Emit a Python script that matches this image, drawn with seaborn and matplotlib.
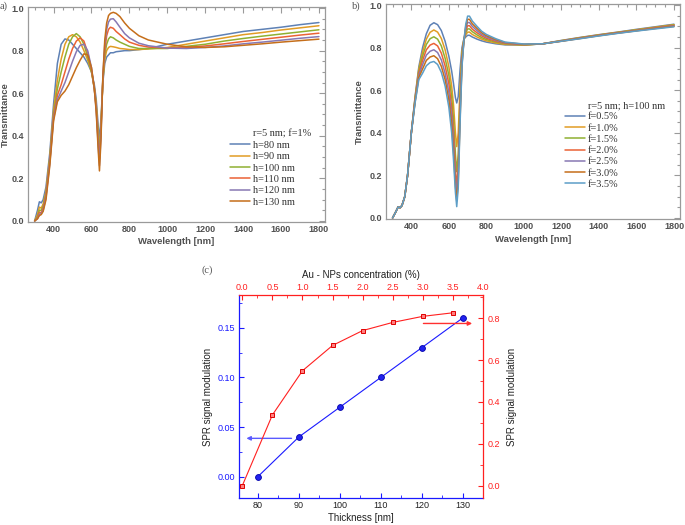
import numpy as np
import pandas as pd
import matplotlib
matplotlib.use("Agg")
import matplotlib.pyplot as plt
import seaborn as sns
from matplotlib.lines import Line2D
from matplotlib.ticker import MultipleLocator

sns.set_theme(style="white")
plt.rcParams['font.family'] = ['Liberation Sans', 'DejaVu Sans']

# ---------------- Panel (a) data ----------------
wl_a = [300, 315, 325, 335, 345, 360, 380, 400, 420, 440, 460, 480, 500, 520, 540, 560,
        580, 600, 615, 625, 635, 642, 650, 660, 670, 680, 690, 700, 715, 730, 750, 775,
        800, 850, 900, 1000, 1100, 1200, 1300, 1400, 1500, 1600, 1700, 1800]
h80 = [0.0, 0.05, 0.09, 0.085, 0.10, 0.16, 0.32, 0.55, 0.74, 0.83, 0.855, 0.85, 0.83, 0.81, 0.79, 0.77,
       0.74, 0.70, 0.64, 0.57, 0.45, 0.38, 0.48, 0.65, 0.74, 0.77, 0.78, 0.79, 0.79, 0.795, 0.797, 0.80,
       0.80, 0.805, 0.81, 0.83, 0.845, 0.86, 0.875, 0.89, 0.90, 0.91, 0.922, 0.932]
h90 = [0.0, 0.03, 0.065, 0.06, 0.08, 0.14, 0.30, 0.52, 0.66, 0.76, 0.83, 0.865, 0.875, 0.865, 0.84, 0.80,
       0.755, 0.70, 0.63, 0.55, 0.42, 0.33, 0.45, 0.66, 0.76, 0.80, 0.815, 0.82, 0.818, 0.815, 0.81, 0.808,
       0.805, 0.805, 0.808, 0.815, 0.83, 0.845, 0.86, 0.875, 0.885, 0.897, 0.907, 0.917]
h100 = [0.0, 0.02, 0.05, 0.05, 0.07, 0.13, 0.29, 0.50, 0.62, 0.70, 0.77, 0.83, 0.865, 0.88, 0.865, 0.83,
        0.77, 0.70, 0.62, 0.54, 0.40, 0.32, 0.44, 0.66, 0.78, 0.83, 0.855, 0.865, 0.86, 0.85, 0.84, 0.83,
        0.82, 0.81, 0.81, 0.81, 0.82, 0.83, 0.845, 0.857, 0.868, 0.878, 0.888, 0.898]
h110 = [0.0, 0.015, 0.04, 0.04, 0.06, 0.12, 0.28, 0.49, 0.59, 0.64, 0.70, 0.76, 0.81, 0.845, 0.86, 0.845,
        0.79, 0.71, 0.62, 0.53, 0.38, 0.29, 0.42, 0.67, 0.80, 0.87, 0.90, 0.91, 0.905, 0.89, 0.875, 0.855,
        0.84, 0.825, 0.817, 0.812, 0.815, 0.822, 0.832, 0.843, 0.853, 0.863, 0.873, 0.882]
h120 = [0.0, 0.01, 0.03, 0.035, 0.05, 0.11, 0.27, 0.48, 0.57, 0.61, 0.65, 0.70, 0.75, 0.795, 0.825, 0.83,
        0.80, 0.72, 0.62, 0.52, 0.36, 0.26, 0.40, 0.68, 0.83, 0.90, 0.935, 0.948, 0.95, 0.935, 0.91, 0.88,
        0.86, 0.835, 0.823, 0.812, 0.81, 0.815, 0.822, 0.832, 0.84, 0.849, 0.858, 0.866]
h130 = [0.0, 0.01, 0.025, 0.03, 0.045, 0.10, 0.26, 0.47, 0.56, 0.59, 0.61, 0.64, 0.68, 0.72, 0.755, 0.785,
        0.78, 0.72, 0.62, 0.51, 0.34, 0.235, 0.38, 0.68, 0.85, 0.93, 0.965, 0.975, 0.98, 0.975, 0.96, 0.93,
        0.905, 0.87, 0.85, 0.83, 0.818, 0.815, 0.818, 0.825, 0.832, 0.84, 0.847, 0.854]
labels_a = ["h=80 nm", "h=90 nm", "h=100 nm", "h=110 nm", "h=120 nm", "h=130 nm"]
series_a = [h80, h90, h100, h110, h120, h130]
title_a = "r=5 nm; f=1%"

# ---------------- Panel (b) data ----------------
wl_b = [300, 315, 330, 340, 350, 365, 380, 400, 420, 440, 460, 480, 500, 520, 540, 560,
        580, 600, 615, 625, 635, 642, 650, 660, 670, 680, 690, 700, 710, 725, 750, 775,
        800, 850, 900, 1000, 1100, 1200, 1300, 1400, 1500, 1600, 1700, 1800]
f05 = [0.0, 0.025, 0.052, 0.048, 0.058, 0.10, 0.20, 0.40, 0.57, 0.71, 0.80, 0.865, 0.905, 0.917, 0.908, 0.88,
       0.83, 0.76, 0.69, 0.63, 0.565, 0.54, 0.57, 0.70, 0.80, 0.84, 0.85, 0.858, 0.858, 0.85, 0.84, 0.832,
       0.826, 0.818, 0.813, 0.812, 0.818, 0.834, 0.848, 0.861, 0.873, 0.886, 0.898, 0.910]
f10 = [0.0, 0.025, 0.052, 0.048, 0.058, 0.10, 0.20, 0.40, 0.565, 0.70, 0.78, 0.84, 0.872, 0.883, 0.873, 0.843,
       0.79, 0.71, 0.62, 0.53, 0.40, 0.335, 0.40, 0.62, 0.78, 0.84, 0.86, 0.873, 0.873, 0.862, 0.85, 0.84,
       0.832, 0.822, 0.815, 0.812, 0.818, 0.833, 0.847, 0.86, 0.872, 0.884, 0.896, 0.908]
f15 = [0.0, 0.025, 0.052, 0.048, 0.058, 0.10, 0.20, 0.40, 0.56, 0.69, 0.76, 0.815, 0.842, 0.851, 0.840, 0.808,
       0.75, 0.67, 0.57, 0.46, 0.30, 0.217, 0.30, 0.57, 0.76, 0.835, 0.87, 0.888, 0.888, 0.875, 0.86, 0.847,
       0.838, 0.826, 0.818, 0.813, 0.818, 0.832, 0.846, 0.859, 0.871, 0.883, 0.894, 0.906]
f20 = [0.0, 0.025, 0.052, 0.048, 0.058, 0.10, 0.20, 0.40, 0.555, 0.68, 0.74, 0.79, 0.812, 0.820, 0.808, 0.774,
       0.715, 0.63, 0.52, 0.40, 0.23, 0.147, 0.24, 0.53, 0.745, 0.835, 0.88, 0.903, 0.903, 0.887, 0.87, 0.855,
       0.844, 0.83, 0.82, 0.814, 0.818, 0.831, 0.845, 0.858, 0.87, 0.881, 0.893, 0.904]
f25 = [0.0, 0.025, 0.052, 0.048, 0.058, 0.10, 0.20, 0.40, 0.55, 0.67, 0.72, 0.765, 0.783, 0.790, 0.777, 0.742,
       0.68, 0.59, 0.48, 0.35, 0.19, 0.108, 0.20, 0.50, 0.73, 0.83, 0.89, 0.918, 0.918, 0.90, 0.88, 0.862,
       0.85, 0.834, 0.822, 0.815, 0.818, 0.831, 0.844, 0.857, 0.869, 0.88, 0.891, 0.902]
f30 = [0.0, 0.025, 0.052, 0.048, 0.058, 0.10, 0.20, 0.40, 0.545, 0.66, 0.70, 0.74, 0.756, 0.762, 0.748, 0.712,
       0.65, 0.555, 0.44, 0.31, 0.15, 0.08, 0.17, 0.47, 0.72, 0.83, 0.90, 0.933, 0.933, 0.912, 0.89, 0.87,
       0.856, 0.838, 0.824, 0.816, 0.818, 0.830, 0.843, 0.856, 0.868, 0.879, 0.89, 0.90]
f35 = [0.0, 0.025, 0.052, 0.048, 0.058, 0.10, 0.20, 0.40, 0.54, 0.65, 0.68, 0.715, 0.730, 0.735, 0.721, 0.684,
       0.62, 0.52, 0.40, 0.27, 0.12, 0.053, 0.14, 0.45, 0.71, 0.83, 0.91, 0.948, 0.948, 0.925, 0.90, 0.877,
       0.862, 0.842, 0.826, 0.817, 0.818, 0.830, 0.842, 0.855, 0.867, 0.878, 0.888, 0.898]
labels_b = ["f=0.5%", "f=1.0%", "f=1.5%", "f=2.0%", "f=2.5%", "f=3.0%", "f=3.5%"]
series_b = [f05, f10, f15, f20, f25, f30, f35]
title_b = "r=5 nm; h=100 nm"

# ---------------- Panel (c) data ----------------
thickness = [80, 90, 100, 110, 120, 130]
spr_thick = [0.0, 0.04, 0.07, 0.10, 0.13, 0.16]
concentration = [0.0, 0.5, 1.0, 1.5, 2.0, 2.5, 3.0, 3.5]
spr_conc = [0.0, 0.338, 0.549, 0.670, 0.741, 0.780, 0.809, 0.826]

mma_colors = ["#5E81B5", "#E19C24", "#8FB032", "#EB6235", "#8778B3", "#C56E1A", "#5D9EC7"]

W, H = 685, 525
fig = plt.figure(figsize=(W / 100, H / 100), dpi=100)


def rect(l, t, r, b):
    return [l / W, 1 - b / H, (r - l) / W, (b - t) / H]


FRAME = "#9a9a9a"
TXT = "#505050"


def spectral_panel(ax, wl, series, labels, colors, title, leg_xy, ylabel_x, xlabel_y, lspace):
    rows = []
    for lab, vals in zip(labels, series):
        for w, v in zip(wl, vals):
            rows.append((w, v, lab))
    df = pd.DataFrame(rows, columns=["Wavelength", "T", "label"])
    sns.lineplot(data=df, x="Wavelength", y="T", hue="label", hue_order=labels,
                 palette=colors, linewidth=1.1, ax=ax, legend=False,
                 estimator=None, sort=False)
    ax.set_xlim(265, 1832)
    ax.set_ylim(-0.005, 1.005)
    ax.xaxis.set_major_locator(MultipleLocator(200))
    ax.xaxis.set_minor_locator(MultipleLocator(50))
    ax.yaxis.set_major_locator(MultipleLocator(0.2))
    ax.yaxis.set_minor_locator(MultipleLocator(0.05))
    ax.set_xticks([400, 600, 800, 1000, 1200, 1400, 1600, 1800])
    ax.tick_params(which="both", direction="in", top=True, right=True,
                   color=FRAME, width=0.8, labelcolor=TXT, labelsize=6.5, pad=2.5)
    ax.tick_params(which="major", length=4)
    ax.tick_params(which="minor", length=2)
    ax.set_yticks([0.0, 0.2, 0.4, 0.6, 0.8, 1.0])
    ax.set_yticklabels(["0.0", "0.2", "0.4", "0.6", "0.8", "1.0"])
    for lab in ax.get_xticklabels() + ax.get_yticklabels():
        lab.set_fontweight("bold")
    for s in ax.spines.values():
        s.set_color(FRAME)
        s.set_linewidth(0.9)
    ax.set_xlabel("")
    ax.set_ylabel("")
    bb = ax.get_position()
    fig.text(ylabel_x / W, (bb.y0 + bb.y1) / 2, "Transmittance", rotation=90,
             ha="center", va="center", fontsize=6.8, fontweight="bold", color=TXT)
    fig.text((bb.x0 + bb.x1) / 2, 1 - xlabel_y / H, "Wavelength [nm]",
             ha="center", va="center", fontsize=6.8, fontweight="bold", color=TXT)
    lines = ax.get_lines()[:len(labels)]
    handles = [Line2D([], [], color="none")] + list(lines)
    leg = ax.legend(handles, [title] + labels, loc="upper left",
                    bbox_to_anchor=(leg_xy[0] / W, 1 - leg_xy[1] / H),
                    bbox_transform=fig.transFigure, frameon=False,
                    prop={"family": "Liberation Serif", "size": 7.4},
                    handlelength=1.95, handletextpad=0.3, labelspacing=lspace,
                    borderpad=0, borderaxespad=0)
    for t in leg.get_texts():
        t.set_color("#333333")
    return ax


ax_a = fig.add_axes(rect(28, 7, 325, 222))
spectral_panel(ax_a, wl_a, series_a, labels_a, mma_colors[:6], title_a,
               (230, 129), 5, 242, 0.22)
ax_b = fig.add_axes(rect(386, 4, 680, 219))
spectral_panel(ax_b, wl_b, series_b, labels_b, mma_colors[:7], title_b,
               (565, 101), 359, 239, 0.2)

fig.text(0 / W, 1 - 6 / H, "a)", fontsize=7.5, family="Liberation Serif",
         color="#555555", ha="left", va="center")
fig.text(352 / W, 1 - 6 / H, "b)", fontsize=7.5, family="Liberation Serif",
         color="#555555", ha="left", va="center")
fig.text(202 / W, 1 - 270 / H, "(c)", fontsize=7.5, family="Liberation Serif",
         color="#555555", ha="left", va="center")

# ---------------- Panel (c) ----------------
BLUE = "#1a1aff"
RED = "#ff2020"
rc = rect(239, 295, 483, 498)
ax_c = fig.add_axes(rc)
ax_r = fig.add_axes(rc, label="conc")
ax_r.patch.set_alpha(0)

df_t = pd.DataFrame({"Thickness": thickness, "SPR": spr_thick})
sns.lineplot(data=df_t, x="Thickness", y="SPR", ax=ax_c, color=BLUE, linewidth=0.8,
             marker="o", markersize=4.2, markerfacecolor="#2222ee",
             markeredgecolor="#0000aa", markeredgewidth=0.6)
df_c = pd.DataFrame({"Conc": concentration, "SPR": spr_conc})
sns.lineplot(data=df_c, x="Conc", y="SPR", ax=ax_r, color=RED, linewidth=0.8,
             marker="s", markersize=3.4, markerfacecolor="#ff8080",
             markeredgecolor="#e00000", markeredgewidth=0.7)

ax_c.set_xlim(75.4, 134.9)
ax_c.set_ylim(-0.0215, 0.183)
ax_r.set_xlim(-0.055, 3.99)
ax_r.set_ylim(-0.059, 0.911)

ax_c.xaxis.set_major_locator(MultipleLocator(10))
ax_c.xaxis.set_minor_locator(MultipleLocator(5))
ax_c.set_yticks([0.0, 0.05, 0.10, 0.15])
ax_c.set_yticklabels(["0.00", "0.05", "0.10", "0.15"])
ax_c.yaxis.set_minor_locator(MultipleLocator(0.025))
ax_r.set_xticks([0.0, 0.5, 1.0, 1.5, 2.0, 2.5, 3.0, 3.5, 4.0])
ax_r.xaxis.set_minor_locator(MultipleLocator(0.25))
ax_r.set_yticks([0.0, 0.2, 0.4, 0.6, 0.8])
ax_r.yaxis.set_minor_locator(MultipleLocator(0.1))

ax_c.spines["top"].set_visible(False)
ax_c.spines["right"].set_visible(False)
ax_c.spines["left"].set_color(BLUE)
ax_c.spines["bottom"].set_color(BLUE)
ax_r.spines["left"].set_visible(False)
ax_r.spines["bottom"].set_visible(False)
ax_r.spines["top"].set_color(RED)
ax_r.spines["right"].set_color(RED)
for s in list(ax_c.spines.values()) + list(ax_r.spines.values()):
    s.set_linewidth(0.9)

ax_c.tick_params(axis="x", which="both", direction="in", bottom=True, top=False,
                 color=BLUE, labelcolor="#222222", labelsize=6.5, pad=2)
ax_c.tick_params(axis="y", which="both", direction="in", left=True, right=False,
                 color=BLUE, labelcolor=BLUE, labelsize=6.5, pad=3)
ax_c.tick_params(which="major", length=3.5, width=0.8)
ax_c.tick_params(which="minor", length=2, width=0.6)

ax_r.xaxis.set_ticks_position("top")
ax_r.xaxis.set_label_position("top")
ax_r.yaxis.set_ticks_position("right")
ax_r.yaxis.set_label_position("right")
ax_r.tick_params(axis="x", which="both", direction="in", top=True, bottom=False,
                 color=RED, labelcolor=RED, labelsize=6.5, pad=2)
ax_r.tick_params(axis="y", which="both", direction="in", right=True, left=False,
                 color=RED, labelcolor=RED, labelsize=6.5, pad=3)
ax_r.tick_params(which="major", length=3.5, width=0.8)
ax_r.tick_params(which="minor", length=2, width=0.6)

ax_c.set_xlabel("Thickness [nm]", fontsize=7, color="#222222", labelpad=2)
ax_c.set_ylabel("SPR signal modulation", fontsize=7, color="#222222", labelpad=3)
ax_r.set_xlabel("Au - NPs concentration (%)", fontsize=7, color="#222222", labelpad=4)
ax_r.set_ylabel("SPR signal modulation", fontsize=7, color="#222222", labelpad=5)
ax_c.grid(False)
ax_r.grid(False)

# arrows indicating which axis each curve belongs to
ax_c.annotate("", xy=(77.2, 0.0386), xytext=(88.2, 0.0386),
              arrowprops=dict(arrowstyle="-|>", color="#5a5aff", lw=1.0,
                              mutation_scale=6, shrinkA=0, shrinkB=0))
ax_r.annotate("", xy=(3.82, 0.775), xytext=(3.01, 0.775),
              arrowprops=dict(arrowstyle="-|>", color="#ff3030", lw=1.0,
                              mutation_scale=6, shrinkA=0, shrinkB=0))

fig.savefig("out.png", dpi=100)
